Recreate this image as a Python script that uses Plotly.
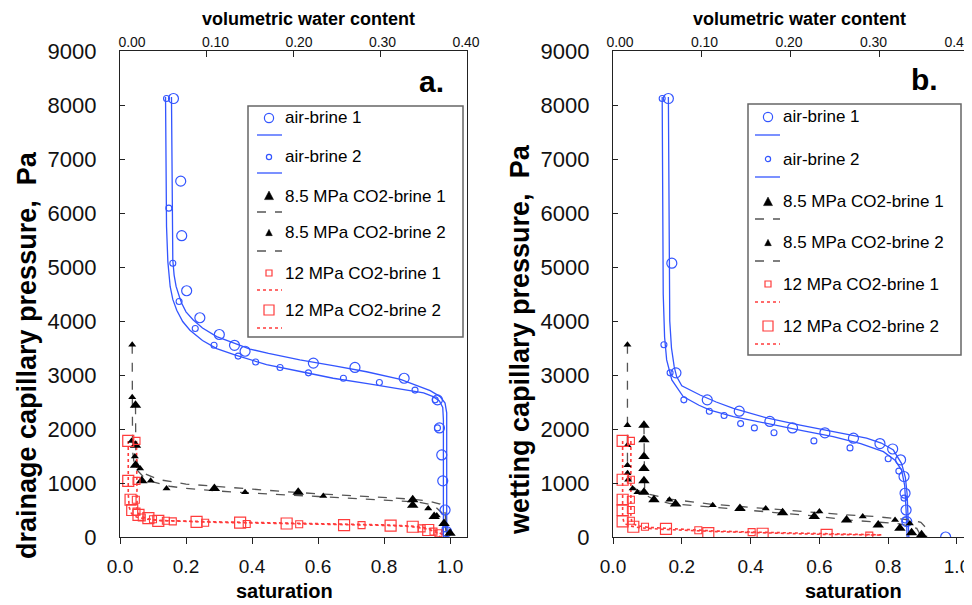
import plotly.graph_objects as go

W, H = 972, 605
OFF = 8  # the page body adds an 8px margin around the figure
FW, FH = W - OFF, H - OFF

# ---------------- data: panel a (drainage) ----------------
ab1_s_a = [0.162, 0.184, 0.187, 0.202, 0.242, 0.301, 0.347, 0.379, 0.586, 0.712, 0.861, 0.962, 0.968, 0.975, 0.978, 0.985, 0.99]
ab1_p_a = [8120, 6590, 5580, 4560, 4060, 3750, 3550, 3440, 3220, 3140, 2940, 2540, 2020, 1520, 1040, 500, 100]
ab2_s_a = [0.141, 0.148, 0.160, 0.179, 0.228, 0.285, 0.358, 0.411, 0.485, 0.571, 0.677, 0.786, 0.894, 0.955, 0.962, 0.985]
ab2_p_a = [8120, 6090, 5070, 4360, 3860, 3550, 3350, 3240, 3140, 3040, 2940, 2860, 2720, 2540, 2020, 150]
fit_ab1_s_a = [0.156, 0.157, 0.159, 0.160, 0.164, 0.170, 0.180, 0.187, 0.200, 0.222, 0.25, 0.293, 0.35, 0.394, 0.45, 0.545, 0.65, 0.747, 0.85, 0.899, 0.94, 0.970, 0.985, 0.990, 0.990, 0.990]
fit_ab1_p_a = [8150, 7500, 6500, 5130, 4850, 4640, 4450, 4330, 4170, 4020, 3870, 3710, 3580, 3480, 3400, 3280, 3170, 3060, 2920, 2810, 2710, 2600, 2480, 2300, 1500, 0]
fit_ab2_s_a = [0.138, 0.139, 0.141, 0.145, 0.152, 0.160, 0.172, 0.190, 0.212, 0.25, 0.293, 0.35, 0.444, 0.55, 0.646, 0.75, 0.848, 0.92, 0.949, 0.968, 0.978, 0.980, 0.980]
fit_ab2_p_a = [8150, 7000, 5750, 5100, 4640, 4400, 4200, 3990, 3830, 3640, 3490, 3370, 3190, 3060, 2940, 2840, 2750, 2670, 2600, 2520, 2400, 2170, 0]

c85a_s_a = [0.047, 0.047, 0.047, 0.066, 0.286, 0.540, 0.887, 0.887, 0.952, 0.982, 1.0]
c85a_p_a = [2440, 1700, 1330, 1040, 900, 830, 690, 590, 380, 250, 70]
c85b_s_a = [0.037, 0.037, 0.035, 0.045, 0.061, 0.093, 0.141, 0.379, 0.616, 0.934, 0.960]
c85b_p_a = [3560, 2590, 1780, 1490, 1270, 1040, 900, 830, 760, 530, 400]
fit_c85a_s_a = [0.047, 0.047, 0.048, 0.052, 0.06, 0.08, 0.12, 0.2, 0.3, 0.4, 0.5, 0.6, 0.7, 0.8, 0.888, 0.94, 0.97, 0.985, 0.99, 0.992]
fit_c85a_p_a = [2440, 1800, 1500, 1380, 1280, 1160, 1060, 980, 930, 880, 840, 800, 770, 735, 700, 660, 610, 450, 200, 0]
fit_c85b_s_a = [0.037, 0.037, 0.038, 0.042, 0.05, 0.07, 0.1, 0.15, 0.2, 0.3, 0.4, 0.5, 0.6, 0.7, 0.8, 0.9, 0.95, 0.975, 0.985, 0.99]
fit_c85b_p_a = [3560, 2000, 1600, 1400, 1250, 1120, 1020, 940, 900, 850, 810, 780, 750, 720, 690, 650, 590, 450, 230, 0]

c12a_s_a = [0.05, 0.05, 0.048, 0.05, 0.066, 0.10, 0.139, 0.160, 0.258, 0.384, 0.543, 0.732, 0.914, 0.95, 0.965]
c12a_p_a = [1780, 1040, 690, 470, 360, 330, 300, 290, 265, 240, 235, 220, 160, 100, 70]
c12b_s_a = [0.025, 0.025, 0.032, 0.037, 0.056, 0.086, 0.116, 0.232, 0.364, 0.505, 0.679, 0.820, 0.887, 0.934]
c12b_p_a = [1780, 1040, 690, 500, 410, 350, 300, 280, 265, 250, 220, 210, 190, 130]
fit_c12a_s_a = [0.05, 0.05, 0.052, 0.06, 0.08, 0.12, 0.2, 0.3, 0.4, 0.5, 0.6, 0.7, 0.8, 0.88, 0.93, 0.955, 0.965, 0.97]
fit_c12a_p_a = [1780, 800, 500, 400, 340, 305, 285, 270, 260, 250, 240, 230, 215, 195, 150, 100, 50, 0]
fit_c12b_s_a = [0.025, 0.025, 0.028, 0.035, 0.05, 0.08, 0.12, 0.2, 0.3, 0.4, 0.5, 0.6, 0.7, 0.8, 0.88, 0.93, 0.96, 0.975, 0.98]
fit_c12b_p_a = [1780, 800, 550, 430, 370, 330, 305, 290, 280, 270, 260, 250, 240, 225, 205, 170, 110, 50, 0]

# ---------------- data: panel b (wetting) ----------------
ab1_s_b = [0.161, 0.171, 0.183, 0.274, 0.367, 0.456, 0.522, 0.616, 0.699, 0.776, 0.813, 0.836, 0.846, 0.849, 0.852, 0.854, 0.967]
ab1_p_b = [8120, 5070, 3040, 2540, 2330, 2140, 2020, 1930, 1830, 1730, 1630, 1430, 1120, 810, 500, 285, 0]
ab2_s_b = [0.143, 0.148, 0.166, 0.206, 0.280, 0.323, 0.371, 0.411, 0.468, 0.584, 0.689, 0.800, 0.831, 0.846, 0.849]
ab2_p_b = [8120, 3560, 3040, 2540, 2330, 2250, 2100, 2020, 1930, 1780, 1650, 1450, 1220, 720, 315]
fit_ab1_s_b = [0.161, 0.162, 0.163, 0.165, 0.170, 0.178, 0.185, 0.2, 0.253, 0.3, 0.35, 0.45, 0.544, 0.64, 0.737, 0.78, 0.815, 0.839, 0.85, 0.855, 0.858, 0.86]
fit_ab1_p_b = [8150, 6500, 5000, 4000, 3500, 3150, 2970, 2800, 2630, 2500, 2380, 2200, 2070, 1950, 1830, 1740, 1610, 1360, 1100, 800, 300, 0]
fit_ab2_s_b = [0.143, 0.144, 0.146, 0.150, 0.156, 0.171, 0.204, 0.25, 0.282, 0.35, 0.447, 0.55, 0.64, 0.72, 0.786, 0.82, 0.839, 0.848, 0.852, 0.855]
fit_ab2_p_b = [8150, 6000, 4500, 3700, 3280, 2910, 2600, 2440, 2350, 2230, 2100, 1970, 1860, 1730, 1580, 1420, 1240, 950, 500, 0]

c85a_s_b = [0.090, 0.090, 0.090, 0.090, 0.090, 0.090, 0.119, 0.182, 0.369, 0.493, 0.585, 0.679, 0.771, 0.834, 0.868, 0.897]
c85a_p_b = [2070, 1800, 1490, 1270, 1040, 830, 690, 610, 530, 450, 380, 315, 220, 160, 80, 40]
c85b_s_b = [0.042, 0.042, 0.042, 0.042, 0.042, 0.044, 0.057, 0.071, 0.164, 0.29, 0.444, 0.6, 0.726, 0.820, 0.863]
c85b_p_b = [3560, 2070, 1700, 1330, 1180, 1060, 900, 830, 690, 590, 530, 470, 380, 315, 250]
fit_c85a_s_b = [0.09, 0.09, 0.092, 0.1, 0.12, 0.166, 0.282, 0.4, 0.495, 0.6, 0.679, 0.76, 0.825, 0.865, 0.883, 0.89, 0.892]
fit_c85a_p_b = [2070, 1100, 850, 760, 690, 620, 560, 500, 440, 380, 315, 280, 250, 200, 160, 80, 0]
fit_c85b_s_b = [0.042, 0.042, 0.045, 0.05, 0.07, 0.1, 0.166, 0.282, 0.379, 0.495, 0.6, 0.679, 0.76, 0.825, 0.875, 0.895, 0.907, 0.912]
fit_c85b_p_b = [3560, 1400, 1100, 980, 870, 800, 700, 610, 560, 500, 450, 410, 380, 345, 310, 270, 190, 0]

c12a_s_b = [0.052, 0.052, 0.052, 0.052, 0.052, 0.093, 0.248, 0.403, 0.745]
c12a_p_b = [1780, 1060, 690, 500, 300, 190, 125, 90, 25]
c12b_s_b = [0.028, 0.028, 0.028, 0.028, 0.028, 0.059, 0.154, 0.277, 0.435, 0.621]
c12b_p_b = [1780, 1060, 690, 500, 290, 190, 150, 70, 60, 40]
fit_c12a_s_b = [0.052, 0.052, 0.055, 0.07, 0.1, 0.2, 0.3, 0.45, 0.6, 0.78]
fit_c12a_p_b = [1780, 400, 260, 210, 180, 140, 110, 85, 60, 40]
fit_c12b_s_b = [0.028, 0.028, 0.032, 0.045, 0.08, 0.15, 0.3, 0.45, 0.6, 0.78]
fit_c12b_p_b = [1780, 380, 260, 210, 170, 140, 100, 70, 50, 35]

# ---------------- labels ----------------
legend_names = ["air-brine 1", "air-brine 2", "8.5 MPa CO2-brine 1", "8.5 MPa CO2-brine 2",
                "12 MPa CO2-brine 1", "12 MPa CO2-brine 2"]
sat_ticks = [0, 0.2, 0.4, 0.6, 0.8, 1.0]
sat_ticktext = ["0.0", "0.2", "0.4", "0.6", "0.8", "1.0"]
vwc_ticks = [0, 0.1, 0.2, 0.3, 0.4]
vwc_ticktext = ["0.00", "0.10", "0.20", "0.30", "0.40"]
p_ticks = list(range(0, 9001, 1000))

BLUE = "#3355ff"
RED = "#ff3b3b"
DASH = "#555555"
FONT = "Liberation Sans, Arial, sans-serif"


def px(x):
    return (x - OFF) / FW


def py(y):
    return 1 - (y - OFF) / FH


fig = go.Figure()


def add_panel(xa, ya, d):
    (ab1s, ab1p, ab2s, ab2p, f1s, f1p, f2s, f2p,
     c85as, c85ap, c85bs, c85bp, fc85as, fc85ap, fc85bs, fc85bp,
     c12as, c12ap, c12bs, c12bp, fc12as, fc12ap, fc12bs, fc12bp) = d
    lines = [
        (f1s, f1p, dict(color=BLUE, width=1.3)),
        (f2s, f2p, dict(color=BLUE, width=1.3)),
        (fc85as, fc85ap, dict(color=DASH, width=1.3, dash="dash")),
        (fc85bs, fc85bp, dict(color=DASH, width=1.3, dash="dash")),
        (fc12as, fc12ap, dict(color=RED, width=1.6, dash="dot")),
        (fc12bs, fc12bp, dict(color=RED, width=1.6, dash="dot")),
    ]
    for s, p, ln in lines:
        fig.add_trace(go.Scatter(x=s, y=p, mode="lines", line=ln, xaxis=xa, yaxis=ya,
                                 showlegend=False, hoverinfo="skip"))
    pts = [
        (ab1s, ab1p, dict(symbol="circle-open", size=10, color=BLUE, line=dict(width=1.2, color=BLUE))),
        (ab2s, ab2p, dict(symbol="circle-open", size=6, color=BLUE, line=dict(width=1.1, color=BLUE))),
        (c85as, c85ap, dict(symbol="triangle-up", size=10, color="black")),
        (c85bs, c85bp, dict(symbol="triangle-up", size=7, color="black")),
        (c12as, c12ap, dict(symbol="square-open", size=7, color=RED, line=dict(width=1.1, color=RED))),
        (c12bs, c12bp, dict(symbol="square-open", size=11, color=RED, line=dict(width=1.2, color=RED))),
    ]
    for (s, p, mk), nm in zip(pts, legend_names):
        fig.add_trace(go.Scatter(x=s, y=p, mode="markers", marker=mk, xaxis=xa, yaxis=ya,
                                 name=nm, showlegend=False))


add_panel("x", "y", (ab1_s_a, ab1_p_a, ab2_s_a, ab2_p_a, fit_ab1_s_a, fit_ab1_p_a, fit_ab2_s_a, fit_ab2_p_a,
                     c85a_s_a, c85a_p_a, c85b_s_a, c85b_p_a, fit_c85a_s_a, fit_c85a_p_a, fit_c85b_s_a, fit_c85b_p_a,
                     c12a_s_a, c12a_p_a, c12b_s_a, c12b_p_a, fit_c12a_s_a, fit_c12a_p_a, fit_c12b_s_a, fit_c12b_p_a))
add_panel("x2", "y2", (ab1_s_b, ab1_p_b, ab2_s_b, ab2_p_b, fit_ab1_s_b, fit_ab1_p_b, fit_ab2_s_b, fit_ab2_p_b,
                       c85a_s_b, c85a_p_b, c85b_s_b, c85b_p_b, fit_c85a_s_b, fit_c85a_p_b, fit_c85b_s_b, fit_c85b_p_b,
                       c12a_s_b, c12a_p_b, c12b_s_b, c12b_p_b, fit_c12a_s_b, fit_c12a_p_b, fit_c12b_s_b, fit_c12b_p_b))

# placeholder (empty) traces so the top volumetric-water-content axes get drawn
for xa, ya in (("x3", "y"), ("x4", "y2"), ("x5", "y"), ("x6", "y2")):
    fig.add_trace(go.Scatter(x=vwc_ticks, y=[None] * len(vwc_ticks), mode="markers", xaxis=xa, yaxis=ya,
                             showlegend=False, hoverinfo="skip", marker=dict(opacity=0)))

# ---------------- layout / axes ----------------
dom_a = [px(120), px(467)]
dom_b = [px(613), px(968)]
dom_y = [py(537), py(51)]
AXC = "#222222"


def xbottom(dom, rng, anchor):
    return dict(domain=dom, range=rng, anchor=anchor, tickvals=sat_ticks, ticktext=sat_ticktext,
                ticks="outside", ticklen=6, tickcolor=AXC, showline=True, linecolor=AXC, linewidth=1.3,
                mirror=True, showgrid=False, zeroline=False, ticklabelstandoff=6, automargin=False,
                tickfont=dict(family=FONT, size=19, color="#111"))


def yleft(anchor):
    return dict(domain=dom_y, range=[0, 9000], anchor=anchor, tickvals=p_ticks,
                ticks="inside", ticklen=5, tickcolor=AXC, showline=True, linecolor=AXC, linewidth=1.3,
                mirror=True, showgrid=False, zeroline=False, ticklabelstandoff=18, automargin=False,
                tickfont=dict(family=FONT, size=22, color="#111"))


def xtop_ticks(overlay, anchor):
    return dict(overlaying=overlay, anchor=anchor, side="top", range=[0, 0.4], tickvals=vwc_ticks,
                ticks="inside", ticklen=6, tickcolor=AXC, showticklabels=False, showline=False,
                showgrid=False, zeroline=False, automargin=False)


def xtop_labels(overlay, anchor, rng):
    return dict(overlaying=overlay, anchor=anchor, side="top", range=rng, tickvals=vwc_ticks,
                ticktext=vwc_ticktext, ticks="", showline=False, showgrid=False, zeroline=False,
                automargin=False, tickfont=dict(family=FONT, size=14, color="#111"))


fig.update_layout(
    width=FW, height=FH,
    margin=dict(l=0, r=0, t=0, b=0, pad=0, autoexpand=False),
    paper_bgcolor="white", plot_bgcolor="white",
    showlegend=False,
    xaxis=xbottom(dom_a, [0, 1.0515], "y"),
    yaxis=yleft("x"),
    xaxis2=xbottom(dom_b, [0, 1.032], "y2"),
    yaxis2=yleft("x2"),
    xaxis3=xtop_ticks("x", "y"),
    xaxis4=xtop_ticks("x2", "y2"),
    xaxis5=xtop_labels("x", "y", [-0.0144, 0.4012]),
    xaxis6=xtop_labels("x2", "y2", [-0.00828, 0.41183]),
)

ann = []
shapes = []


def text(x, y, t, size, bold=False, angle=0, xanchor="center"):
    ann.append(dict(x=px(x), y=py(y), xref="paper", yref="paper", text=t, showarrow=False,
                    xanchor=xanchor, yanchor="middle", textangle=angle,
                    font=dict(family=FONT, size=size, color="black", weight="bold" if bold else "normal")))


# axis titles and panel letters
text(308, 19, "volumetric water content", 18, True)
text(799, 19, "volumetric water content", 18, True)
text(284, 591, "saturation", 20, True)
text(853, 591, "saturation", 20, True)
text(27, 355, "drainage capillary pressure,  Pa", 27, True, -90)
text(520, 340, "wetting capillary pressure,  Pa", 27, True, -90)
text(431, 82, "a.", 30, True)
text(924, 80, "b.", 30, True)


# ---------------- manual legends ----------------
def legend(box, mx, tx, lx, rows, lines_y):
    x0, x1, y0, y1 = box
    shapes.append(dict(type="rect", xref="paper", yref="paper", x0=px(x0), x1=px(x1), y0=py(y1), y1=py(y0),
                       line=dict(color="#666666", width=1.5), fillcolor="rgba(0,0,0,0)"))
    styles = [
        ("circle", 4.6, BLUE, dict(color=BLUE, width=1.3)),
        ("circle", 2.6, BLUE, dict(color=BLUE, width=1.3)),
        ("tri", 4.5, "black", dict(color=DASH, width=1.3, dash="dash")),
        ("tri", 3.3, "black", dict(color=DASH, width=1.3, dash="dash")),
        ("square", 3.0, RED, dict(color=RED, width=1.5, dash="dot")),
        ("square", 5.0, RED, dict(color=RED, width=1.5, dash="dot")),
    ]
    for (kind, r, col, ln), name, ry, ly in zip(styles, legend_names, rows, lines_y):
        if kind == "circle":
            shapes.append(dict(type="circle", xref="paper", yref="paper", x0=px(mx - r), x1=px(mx + r),
                               y0=py(ry + r), y1=py(ry - r), line=dict(color=col, width=1.2)))
        elif kind == "square":
            shapes.append(dict(type="rect", xref="paper", yref="paper", x0=px(mx - r), x1=px(mx + r),
                               y0=py(ry + r), y1=py(ry - r), line=dict(color=col, width=1.2)))
        else:
            path = "M {} {} L {} {} L {} {} Z".format(px(mx - r), py(ry + r * 0.8), px(mx + r), py(ry + r * 0.8),
                                                      px(mx), py(ry - r * 1.1))
            shapes.append(dict(type="path", xref="paper", yref="paper", path=path, fillcolor="black",
                               line=dict(color="black", width=0.5)))
        shapes.append(dict(type="line", xref="paper", yref="paper", x0=px(lx[0]), x1=px(lx[1]),
                           y0=py(ly), y1=py(ly), line=ln))
        text(tx, ry, name, 17, False, 0, "left")


legend((248, 463, 106, 337), 269, 283, (257, 282),
       [118, 157, 196, 233, 273, 310], [135, 173, 212, 251, 290, 328])
legend((748, 961, 104, 355), 768, 781, (755, 780),
       [117, 159, 202, 243, 284, 326], [135, 177, 219, 261, 302, 344])

fig.update_layout(annotations=ann, shapes=shapes)

fig.write_html("out.html")
